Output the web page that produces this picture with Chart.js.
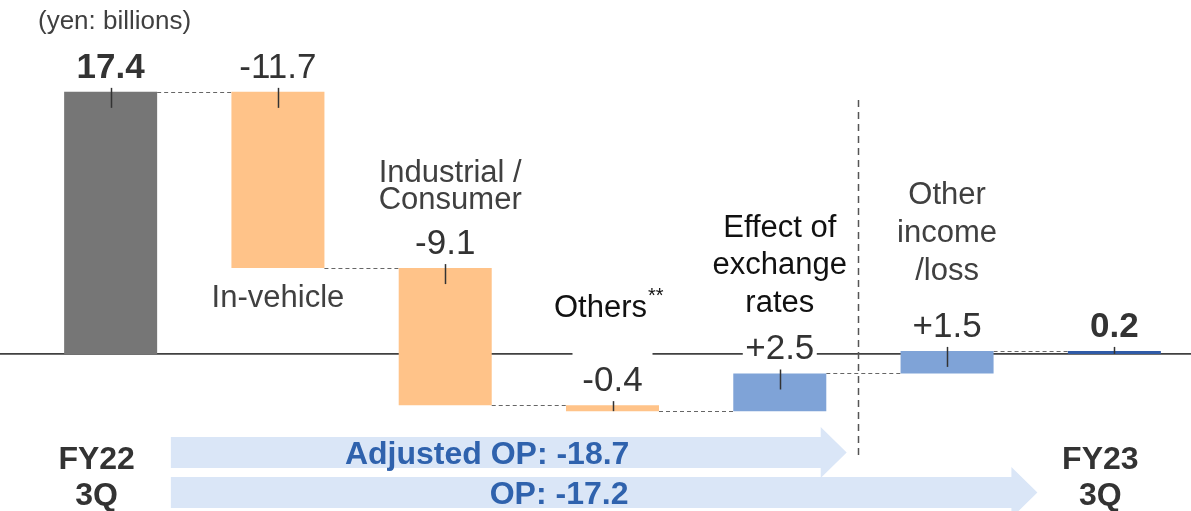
<!DOCTYPE html>
<html>
<head>
<meta charset="utf-8">
<script src="https://cdn.jsdelivr.net/npm/chart.js@4"></script>
<style>
  html, body { margin: 0; padding: 0; background: #fff; overflow: hidden; }
  #wrap { position: relative; width: 1198px; height: 511px; }
</style>
</head>
<body>
<div id="wrap"><canvas id="bridge"></canvas></div>
<script>
// ===== DATA =====
const categories = [['FY22', '3Q'], ['In-vehicle'], ['Industrial /', 'Consumer'], ['Others'],
    ['Effect of', 'exchange', 'rates'], ['Other', 'income', '/loss'], ['FY23', '3Q']];
const changes = [17.4, -11.7, -9.1, -0.4, 2.5, 1.5, 0.2];
const valueLabels = ['17.4', '-11.7', '-9.1', '-0.4', '+2.5', '+1.5', '0.2'];
const isTotal = [true, false, false, false, false, false, true];
const arrowLabels = ['Adjusted OP: -18.7', 'OP: -17.2'];
const unitLabel = '(yen: billions)';

// waterfall: totals start at zero, the rest float on the running sum
const ranges = [];
let running = 0;
changes.forEach((v, i) => {
    if (isTotal[i]) { ranges.push([0, v]); running = v; }
    else { ranges.push([running, running + v]); running += v; }
});

const barColors = ['#767676', '#ffc389', '#ffc389', '#ffc389', '#7fa3d7', '#7fa3d7', '#2f5ba7'];
const FONT = "'Liberation Sans', Arial, sans-serif";

// where each category caption sits, relative to its bar
const captionSpots = [
    { ref: 'floor', dy: [-42, -6], dx: -14, weight: 'bold', size: 32, color: '#333' },
    { ref: 'bottom', dy: [39], color: '#404040' },
    { ref: 'top', dy: [-86, -59], dx: 5, color: '#404040' },
    { ref: 'top', dy: [-88], dx: -12, color: '#111', sup: '**' },
    { ref: 'top', dy: [-136, -99, -61], color: '#111' },
    { ref: 'top', dy: [-147, -109, -71], color: '#404040' },
    { ref: 'floor', dy: [-42, -6], dx: -14, weight: 'bold', size: 32, color: '#333' },
];
const zeroGaps = { 3: 80, 4: 74 };

function arrow(ctx, x0, x1, cy, bodyH, headH, headL) {
    ctx.beginPath();
    ctx.moveTo(x0, cy - bodyH / 2);
    ctx.lineTo(x1 - headL, cy - bodyH / 2);
    ctx.lineTo(x1 - headL, cy - headH / 2);
    ctx.lineTo(x1, cy);
    ctx.lineTo(x1 - headL, cy + headH / 2);
    ctx.lineTo(x1 - headL, cy + bodyH / 2);
    ctx.lineTo(x0, cy + bodyH / 2);
    ctx.closePath();
    ctx.fill();
}

const bridgeDecor = {
    id: 'bridgeDecor',
    beforeDatasetsDraw(chart) {
        const { ctx } = chart;
        const ys = chart.scales.y;
        const bars = chart.getDatasetMeta(0).data;
        const y0 = ys.getPixelForValue(0);
        ctx.save();
        // zero line across the page
        ctx.strokeStyle = '#404040';
        ctx.lineWidth = 1.6;
        ctx.beginPath(); ctx.moveTo(0, y0); ctx.lineTo(chart.width, y0); ctx.stroke();
        Object.keys(zeroGaps).forEach(k => {
            ctx.fillStyle = '#fff';
            ctx.fillRect(bars[k].x - zeroGaps[k] / 2, y0 - 3, zeroGaps[k], 6);
        });
        // dashed connectors between bars
        ctx.setLineDash([4, 3]);
        ctx.lineWidth = 1;
        ctx.strokeStyle = '#666';
        ctx.beginPath();
        for (let i = 0; i < bars.length - 1; i++) {
            const lvl = Math.round(ys.getPixelForValue(ranges[i][1])) + 0.5;
            ctx.moveTo(bars[i].x + bars[i].width / 2, lvl);
            ctx.lineTo(bars[i + 1].x - bars[i + 1].width / 2, lvl);
        }
        ctx.stroke();
        ctx.restore();
    },
    afterDatasetsDraw(chart) {
        const { ctx } = chart;
        const ys = chart.scales.y;
        const bars = chart.getDatasetMeta(0).data;
        const H = chart.height;
        const step = bars[1].x - bars[0].x;
        ctx.save();

        // unit note
        ctx.fillStyle = '#404040';
        ctx.font = `26px ${FONT}`;
        ctx.textAlign = 'left';
        ctx.textBaseline = 'alphabetic';
        ctx.fillText(unitLabel, 38, 29);

        // bottom arrows
        const ax0 = bars[0].x + 0.36 * step;
        const ax1 = bars[4].x + 0.40 * step;
        const ax2 = bars[6].x - 0.46 * step;
        ctx.fillStyle = '#dae6f7';
        arrow(ctx, ax0, ax2, H - 18.5, 31, 51, 26);
        arrow(ctx, ax0, ax1, H - 58.5, 31, 51, 26);
        ctx.fillStyle = '#2f62ad';
        ctx.font = `bold 32px ${FONT}`;
        ctx.textAlign = 'center';
        ctx.fillText(arrowLabels[0], ax0 + 0.468 * (ax1 - ax0), H - 47);
        ctx.fillText(arrowLabels[1], ax0 + 0.448 * (ax2 - ax0), H - 7);

        // vertical divider
        const vx = Math.round(bars[4].x + 0.47 * step) + 0.5;
        ctx.strokeStyle = '#555';
        ctx.lineWidth = 1.5;
        ctx.setLineDash([7, 5]);
        ctx.beginPath(); ctx.moveTo(vx, 100); ctx.lineTo(vx, H - 54); ctx.stroke();
        ctx.setLineDash([]);

        bars.forEach((bar, i) => {
            const top = ys.getPixelForValue(Math.max(...ranges[i]));
            const bottom = ys.getPixelForValue(Math.min(...ranges[i]));
            const h = bottom - top;
            // leader tick
            ctx.strokeStyle = '#333';
            ctx.lineWidth = 1.5;
            ctx.beginPath();
            ctx.moveTo(Math.round(bar.x) + 0.5, top - 4);
            ctx.lineTo(Math.round(bar.x) + 0.5, top + Math.min(16, h));
            ctx.stroke();
            // value
            ctx.fillStyle = '#333';
            ctx.font = `${isTotal[i] ? 'bold ' : ''}35px ${FONT}`;
            ctx.textAlign = 'center';
            ctx.fillText(valueLabels[i], bar.x, top - 14);
            // caption
            const s = captionSpots[i];
            const anchor = s.ref === 'top' ? top : s.ref === 'bottom' ? bottom : H;
            const cx = bar.x + (s.dx || 0);
            ctx.fillStyle = s.color;
            ctx.font = `${s.weight || 'normal'} ${s.size || 31}px ${FONT}`;
            categories[i].forEach((line, j) => ctx.fillText(line, cx, anchor + s.dy[j]));
            if (s.sup) {
                const w = ctx.measureText(categories[i][0]).width;
                ctx.font = `20px ${FONT}`;
                ctx.textAlign = 'left';
                ctx.fillText(s.sup, cx + w / 2 + 1, anchor + s.dy[0] - 15);
            }
        });
        ctx.restore();
    }
};

new Chart(document.getElementById('bridge').getContext('2d'), {
    type: 'bar',
    data: {
        labels: categories.map(c => c.join(' ')),
        datasets: [{
            data: ranges,
            backgroundColor: barColors,
            borderWidth: 0,
            categoryPercentage: 1,
            barPercentage: 0.556,
        }]
    },
    options: {
        responsive: true,
        maintainAspectRatio: false,
        animation: false,
        layout: { padding: { left: 27, right: 0, top: 0, bottom: 0 } },
        plugins: { legend: { display: false }, tooltip: { enabled: false } },
        scales: {
            x: { display: false },
            y: { display: false, min: -10.43, max: 23.5 }
        }
    },
    plugins: [bridgeDecor]
});
</script>
</body>
</html>
